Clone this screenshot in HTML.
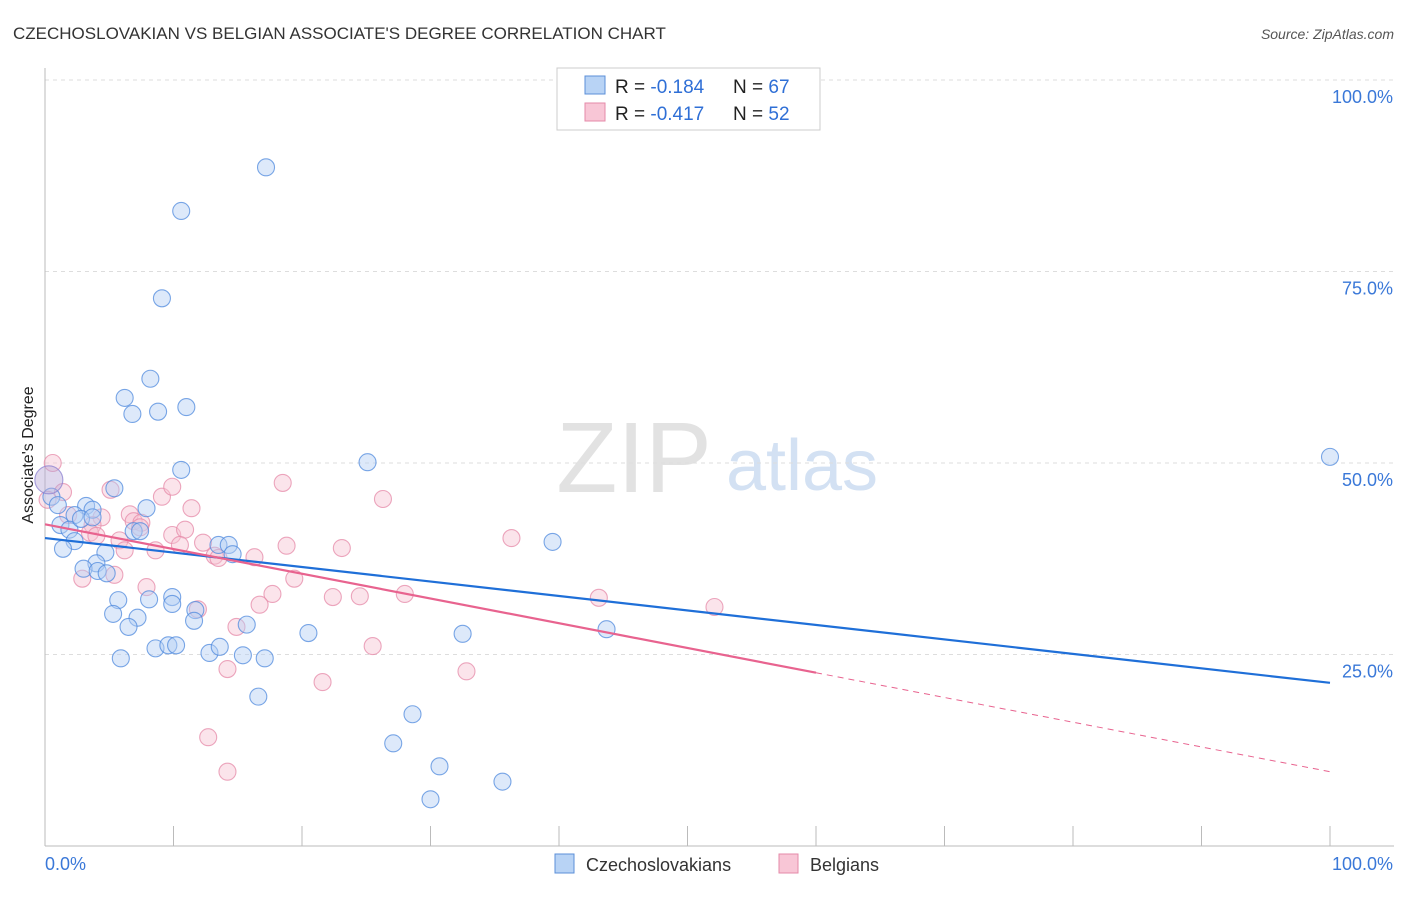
<!DOCTYPE html>
<html><head><meta charset="utf-8"><style>
body{margin:0;background:#fff;font-family:"Liberation Sans",sans-serif}
svg text{font-family:"Liberation Sans",sans-serif}
</style></head><body>
<svg id="chart" width="1406" height="892" xmlns="http://www.w3.org/2000/svg">
<text x="13" y="39" font-size="17" fill="#333">CZECHOSLOVAKIAN VS BELGIAN ASSOCIATE'S DEGREE CORRELATION CHART</text>
<text x="1394" y="39" font-size="14" fill="#555" font-style="italic" text-anchor="end">Source: ZipAtlas.com</text>
<text transform="translate(33,455) rotate(-90)" font-size="16" fill="#222" text-anchor="middle">Associate's Degree</text>
<g>
<text x="634" y="492" font-size="100" fill="#e2e2e2" font-family="Liberation Serif" text-anchor="middle">ZIP</text>
<text x="802" y="490" font-size="72" fill="#d3e1f3" text-anchor="middle">atlas</text>
</g>
<g id="grid"></g>
<g id="axes"></g>
<g id="marks"></g>
<g>
<rect x="557" y="68" width="263" height="62" fill="#fff" stroke="#ccc"/>
<rect x="585" y="76" width="20" height="18" fill="#b8d3f5" stroke="#5b8fd8"/>
<rect x="585" y="103" width="20" height="18" fill="#f8c6d6" stroke="#e58aa8"/>
<text x="615" y="93" font-size="19" fill="#222">R = <tspan fill="#2f6fd6">-0.184</tspan></text>
<text x="733" y="93" font-size="19" fill="#222">N = <tspan fill="#2f6fd6">67</tspan></text>
<text x="615" y="120" font-size="19" fill="#222">R = <tspan fill="#2f6fd6">-0.417</tspan></text>
<text x="733" y="120" font-size="19" fill="#222">N = <tspan fill="#2f6fd6">52</tspan></text>
</g>
<g>
<rect x="555" y="854" width="19" height="19" fill="#b8d3f5" stroke="#5b8fd8"/>
<text x="586" y="871" font-size="18" fill="#333">Czechoslovakians</text>
<rect x="779" y="854" width="19" height="19" fill="#f8c6d6" stroke="#e58aa8"/>
<text x="810" y="871" font-size="18" fill="#333">Belgians</text>
</g>
</svg>
<script>
const czechX=[17.2,10.6,9.1,8.2,6.2,11.0,8.8,6.8,25.1,10.6,100,5.4,7.9,0.5,1.0,3.2,2.3,3.7,1.2,1.9,2.8,3.7,2.3,1.4,4.7,6.9,7.4,13.5,14.3,14.6,39.5,4.0,3.0,4.1,4.8,8.1,9.9,5.7,9.9,5.3,7.2,11.7,6.5,11.6,15.7,20.5,32.5,43.7,8.6,9.6,10.2,12.8,13.6,15.4,17.1,5.9,16.6,28.6,27.1,30.7,35.6,30.0];
const czechY=[88.6,82.9,71.5,61.0,58.5,57.3,56.7,56.4,50.1,49.1,50.8,46.7,44.1,45.6,44.5,44.4,43.2,43.9,41.9,41.3,42.7,42.9,39.8,38.8,38.3,41.1,41.1,39.3,39.3,38.1,39.7,36.9,36.2,35.9,35.6,32.2,32.5,32.1,31.6,30.3,29.8,30.8,28.6,29.4,28.9,27.8,27.7,28.3,25.8,26.2,26.2,25.2,26.0,24.9,24.5,24.5,19.5,17.2,13.4,10.4,8.4,6.1];
const belgX=[0.6,1.4,5.1,9.1,9.9,18.5,26.3,11.4,0.2,1.8,4.4,6.6,6.9,7.5,3.7,3.5,5.8,9.9,4.0,10.9,8.6,6.2,10.5,12.3,13.2,13.5,16.3,18.8,23.1,36.3,2.9,5.4,19.4,7.9,17.7,22.4,24.5,28.0,43.1,52.1,11.9,16.7,14.9,25.5,14.2,32.8,21.6,12.7,14.2,7.4];
const belgY=[50.0,46.2,46.5,45.6,46.9,47.4,45.3,44.1,45.2,43.2,42.9,43.3,42.4,42.2,41.9,40.9,39.9,40.6,40.5,41.3,38.6,38.6,39.3,39.6,37.9,37.6,37.7,39.2,38.9,40.2,34.9,35.4,34.9,33.8,32.9,32.5,32.6,32.9,32.4,31.2,30.9,31.5,28.6,26.1,23.1,22.8,21.4,14.2,9.7,41.6];
const bigPoint=[0.3,47.8];
const czechTrend=[40.2,21.3];
const belgTrend=[42.0,9.7];
const belgTrendSolidEnd=60;
const yTicks=[25,50,75,100];
const yTickLabels=["25.0%","50.0%","75.0%","100.0%"];
const NS="http://www.w3.org/2000/svg";
const sx=v=>45+v*12.85, sy=v=>846-v*7.66;
function mk(p,tag,at){const e=document.createElementNS(NS,tag);for(const k in at)e.setAttribute(k,at[k]);p.appendChild(e);return e;}
const grid=document.getElementById('grid'),axes=document.getElementById('axes'),marks=document.getElementById('marks');
yTicks.forEach((t,i)=>{
 const l=mk(grid,'line',{x1:45,x2:1394,y1:sy(t),y2:sy(t),stroke:'#ddd','stroke-dasharray':'4,4'});
 
 
 const tx=mk(axes,'text',{x:1393,y:sy(t)+23,'font-size':18,fill:'#3a78d8','text-anchor':'end'});
 tx.textContent=yTickLabels[i];
 
 
});
const ya=mk(axes,'line',{x1:45,x2:45,y1:68,y2:846,stroke:'#bbb'});


const xa=mk(axes,'line',{x1:45,x2:1394,y1:846,y2:846,stroke:'#bbb'});


for(let k=1;k<=10;k++){const t=mk(axes,'line',{x1:sx(k*10),x2:sx(k*10),y1:826,y2:846,stroke:'#bbb'});
 
 }
const x0=mk(axes,'text',{x:45,y:870,'font-size':18,fill:'#3a78d8'});x0.textContent='0.0%';


const x1=mk(axes,'text',{x:1393,y:870,'font-size':18,fill:'#3a78d8','text-anchor':'end'});x1.textContent='100.0%';


function dot(x,y,r,fill,stroke,name){const c=mk(marks,'circle',{cx:sx(x),cy:sy(y),r:r,fill:fill,'fill-opacity':0.45,stroke:stroke,'stroke-opacity':0.75,'stroke-width':1.1});
 
 }
belgX.forEach((x,i)=>dot(x,belgY[i],8.5,'#f7c3d3','#e58aa8','belgian-point'));
czechX.forEach((x,i)=>dot(x,czechY[i],8.5,'#b3cff3','#4f8ade','czech-point'));
dot(bigPoint[0],bigPoint[1],14,'#b9a8d8','#8a7fd0','overlap-point');
const bl=mk(marks,'line',{x1:sx(0),y1:sy(czechTrend[0]),x2:sx(100),y2:sy(czechTrend[1]),stroke:'#1f6fd8','stroke-width':2.2});


const pf=x=>belgTrend[0]+(belgTrend[1]-belgTrend[0])*x/100;
const pl=mk(marks,'line',{x1:sx(0),y1:sy(pf(0)),x2:sx(belgTrendSolidEnd),y2:sy(pf(belgTrendSolidEnd)),stroke:'#e8638f','stroke-width':2.2});


const pd=mk(marks,'line',{x1:sx(belgTrendSolidEnd),y1:sy(pf(belgTrendSolidEnd)),x2:sx(100),y2:sy(pf(100)),stroke:'#e8638f','stroke-width':1,'stroke-dasharray':'6,5'});


</script>
</body></html>
